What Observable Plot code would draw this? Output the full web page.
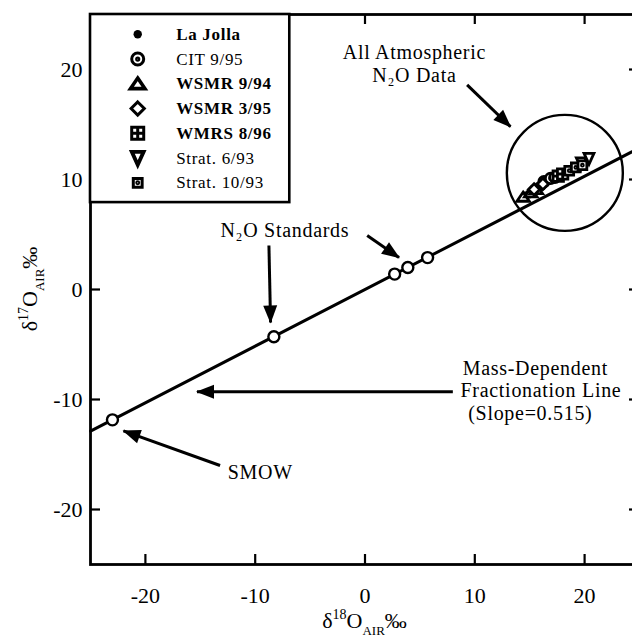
<!DOCTYPE html>
<html><head><meta charset="utf-8">
<script src="https://cdn.jsdelivr.net/npm/d3@7"></script>
<script src="https://cdn.jsdelivr.net/npm/@observablehq/plot@0.6"></script>
<style>html,body{margin:0;padding:0;overflow:hidden;background:#fff} svg{max-width:none !important}</style>
</head><body><div id="chart"></div>
<script>
// ---------- data ----------
const xTicks = [-20, -10, 0, 10, 20];
const yTicks = [-20, -10, 0, 10, 20];
const slope = 0.515;               // mass-dependent fractionation line
const lineX = [-25, 25];

const standardsName = ["SMOW", "N2O std 1", "N2O std 2", "N2O std 3", "N2O std 4"];
const standardsX = [-23.0, -8.3, 2.7, 3.9, 5.7];
const standardsY = [-11.85, -4.3, 1.4, 2.0, 2.9];

const seriesNames = ["La Jolla", "CIT 9/95", "WSMR 9/94", "WSMR 3/95", "WMRS 8/96", "Strat. 6/93", "Strat. 10/93"];
const laJollaX = [14.6, 15.0, 15.3, 15.7, 16.1];
const laJollaY = [8.5, 8.7, 9.0, 9.2, 9.4];
const cit995X = [16.3, 16.9, 17.3];
const cit995Y = [9.8, 10.1, 10.2];
const wsmr994X = [14.4, 15.1, 15.6];
const wsmr994Y = [8.4, 8.8, 9.1];
const wsmr395X = [15.4, 16.2];
const wsmr395Y = [9.1, 9.6];
const wmrs896X = [17.6, 18.0];
const wmrs896Y = [10.3, 10.5];
const strat693X = [19.7, 20.4];
const strat693Y = [11.5, 11.9];
const strat1093X = [18.6, 19.2, 19.8];
const strat1093Y = [10.8, 11.1, 11.3];

const clusterCenter = {x: 18.2, y: 10.6};

// ---------- symbols ----------
function sym(fn) { return {draw(c, s) { fn(c, Math.sqrt(s / Math.PI)); }}; }
const symbols = {
  dot: "circle",
  circleDot: sym((c, r) => { c.moveTo(r, 0); c.arc(0, 0, r, 0, 2 * Math.PI); const q = r * 0.18; c.moveTo(q, 0); c.arc(0, 0, q, 0, 2 * Math.PI); }),
  triUp: sym((c, r) => { c.moveTo(0, -0.95 * r); c.lineTo(1.2 * r, 0.8 * r); c.lineTo(-1.2 * r, 0.8 * r); c.closePath(); }),
  diamond: sym((c, r) => { const k = 1.1 * r; c.moveTo(0, -k); c.lineTo(k, 0); c.lineTo(0, k); c.lineTo(-k, 0); c.closePath(); }),
  squareCross: sym((c, r) => { const k = r; c.rect(-k, -k, 2 * k, 2 * k); c.moveTo(0, -k); c.lineTo(0, k); c.moveTo(-k, 0); c.lineTo(k, 0); }),
  triDown: sym((c, r) => { c.moveTo(-0.95 * r, -r); c.lineTo(0.95 * r, -r); c.lineTo(0, 1.1 * r); c.closePath(); }),
  squareDot: sym((c, r) => { const k = 0.85 * r; c.rect(-k, -k, 2 * k, 2 * k); const q = r * 0.18; c.moveTo(q, 0); c.arc(0, 0, q, 0, 2 * Math.PI); })
};
const seriesStyle = [
  {symbol: symbols.dot, fill: "black", sw: 0, bold: true, lr: 4.2},
  {symbol: symbols.circleDot, fill: "white", sw: 3, bold: false, lr: 6},
  {symbol: symbols.triUp, fill: "white", sw: 3.6, bold: true, lr: 6},
  {symbol: symbols.diamond, fill: "white", sw: 3, bold: true, lr: 6},
  {symbol: symbols.squareCross, fill: "white", sw: 3, bold: true, lr: 6},
  {symbol: symbols.triDown, fill: "white", sw: 3.8, bold: false, lr: 6.2},
  {symbol: symbols.squareDot, fill: "white", sw: 3, bold: false, lr: 5.2}
];
const seriesX = [laJollaX, cit995X, wsmr994X, wsmr395X, wmrs896X, strat693X, strat1093X];
const seriesY = [laJollaY, cit995Y, wsmr994Y, wsmr395Y, wmrs896Y, strat693Y, strat1093Y];

// ---------- annotations (data coordinates) ----------
const notes = [
  {text: "All Atmospheric", x: 4.5, y: 20.95, anchor: "middle"},
  {text: "N₂O Data", x: 4.5, y: 18.9, anchor: "middle"},
  {text: "N₂O Standards", x: -7.3, y: 4.8, anchor: "middle"},
  {text: "Mass-Dependent", x: 8.9, y: -7.75, anchor: "start"},
  {text: "Fractionation Line", x: 8.7, y: -9.8, anchor: "start"},
  {text: "(Slope=0.515)", x: 9.4, y: -11.85, anchor: "start"},
  {text: "SMOW", x: -12.5, y: -17.2, anchor: "start"}
];
const arrows = [
  {x1: 9.3, y1: 18.6, x2: 13.25, y2: 14.8},
  {x1: -8.75, y1: 4.0, x2: -8.6, y2: -3.0},
  {x1: 0.2, y1: 4.9, x2: 3.1, y2: 2.9},
  {x1: 8.0, y1: -9.3, x2: -15.3, y2: -9.3},
  {x1: -13.2, y1: -16.0, x2: -22.0, y2: -12.85}
];
// legend layout (data coordinates)
const legendBox = {x1: -25, x2: -6.85, y1: 25, y2: 7.9};
const legendSymX = -20.7, legendTextX = -17.2, legendTopY = 23.2, legendStep = 2.25;

// ---------- build ----------
const W = 660, H = 642, mL = 90, mR = 21, mT = 14, mB = 78;
const fw = W - mL - mR, fh = H - mT - mB, tl = 10;
const font = "'Liberation Serif', 'Times New Roman', serif";

const lineData = lineX.map(x => ({x, y: slope * x}));
const stdData = standardsX.map((x, i) => ({x, y: standardsY[i], name: standardsName[i]}));
const legendRows = seriesNames.map((name, i) => ({name, i, x: legendSymX, tx: legendTextX, y: legendTopY - i * legendStep}));

const marks = [
  Plot.frame({stroke: "black", strokeWidth: 2.8}),
  Plot.tickX(xTicks, {x: d => d, insetTop: fh - tl, strokeWidth: 2.2}),
  Plot.tickX(xTicks, {x: d => d, insetBottom: fh - tl, strokeWidth: 2.2}),
  Plot.tickY(yTicks, {y: d => d, insetRight: fw - tl, strokeWidth: 2.2}),
  Plot.tickY(yTicks, {y: d => d, insetLeft: fw - tl, strokeWidth: 2.2}),
  Plot.rect([legendBox], {x1: "x1", x2: "x2", y1: "y1", y2: "y2", fill: "white", stroke: "black", strokeWidth: 2.6}),
  Plot.line(lineData, {x: "x", y: "y", stroke: "black", strokeWidth: 3}),
  Plot.dot([clusterCenter], {x: "x", y: "y", r: 58, fill: "none", stroke: "black", strokeWidth: 2.4}),
  Plot.dot(stdData, {x: "x", y: "y", r: 5.5, fill: "white", stroke: "black", strokeWidth: 2.4}),
  ...seriesX.map((xs, k) => {
    const st = seriesStyle[k];
    return Plot.dot(xs.map((x, i) => ({x, y: seriesY[k][i]})), {x: "x", y: "y", r: k === 0 ? 4.6 : 5.2, symbol: st.symbol, fill: st.fill, stroke: "black", strokeWidth: st.sw ? 2.8 : 0});
  }),
  ...legendRows.map(d => {
    const st = seriesStyle[d.i];
    return Plot.dot([d], {x: "x", y: "y", r: st.lr, symbol: st.symbol, fill: st.fill, stroke: "black", strokeWidth: st.sw});
  }),
  Plot.text(legendRows.filter(d => seriesStyle[d.i].bold), {x: "tx", y: "y", text: "name", textAnchor: "start", fontSize: 17, fontWeight: "bold", fill: "black"}),
  Plot.text(legendRows.filter(d => !seriesStyle[d.i].bold), {x: "tx", y: "y", text: "name", textAnchor: "start", fontSize: 17, fill: "black"}),
  ...["middle", "start"].map(a => Plot.text(notes.filter(n => n.anchor === a), {x: "x", y: "y", text: "text", textAnchor: a, lineAnchor: "bottom", fontSize: 20, fill: "black"})),
  Plot.link(arrows, {x1: "x1", y1: "y1", x2: "x2", y2: "y2", stroke: "black", strokeWidth: 3, markerEnd: "arrow"})
];

const plot = Plot.plot({
  width: W, height: H,
  marginLeft: mL, marginRight: mR, marginTop: mT, marginBottom: mB,
  style: {fontFamily: font, fontSize: "22px", color: "black", background: "white", maxWidth: "none"},
  x: {domain: [-25, 25], ticks: xTicks, tickSize: 0, tickPadding: 23, tickFormat: d => String(d), label: null},
  y: {domain: [-25, 25], ticks: yTicks, tickSize: 0, tickPadding: 8, tickFormat: d => String(d), label: null},
  marks
});

// filled arrow heads
d3.select(plot).selectAll("marker")
  .attr("markerUnits", "userSpaceOnUse").attr("viewBox", "-18 -8 20 16")
  .attr("markerWidth", 20).attr("markerHeight", 16)
  .selectAll("path").attr("d", "M-17,-7L1,0L-17,7Z").attr("fill", "black").attr("stroke", "none");

// slightly wider lettering for the annotation texts, like the scanned original
d3.select(plot).selectAll('g[aria-label="text"] text').attr("letter-spacing", "0.7px");

// axis titles with super/subscripts
const sx = plot.scale("x"), sy = plot.scale("y");
function title(g, num) {
  const t = g.append("text").attr("text-anchor", "middle").attr("font-family", font).attr("font-size", 22).attr("fill", "black");
  t.append("tspan").text("δ");
  t.append("tspan").attr("font-size", 14).attr("dy", -9).text(num);
  t.append("tspan").attr("dy", 9).text("O");
  t.append("tspan").attr("font-size", 13).attr("dy", 7).text("AIR");
  t.append("tspan").attr("dy", -7).text("‰");
}
const svg = d3.select(plot);
title(svg.append("g").attr("transform", `translate(${sx.apply(0)},628)`), "18");
title(svg.append("g").attr("transform", `translate(37,${sy.apply(0)}) rotate(-90)`), "17");

document.getElementById("chart").append(plot);
</script>
</body></html>
